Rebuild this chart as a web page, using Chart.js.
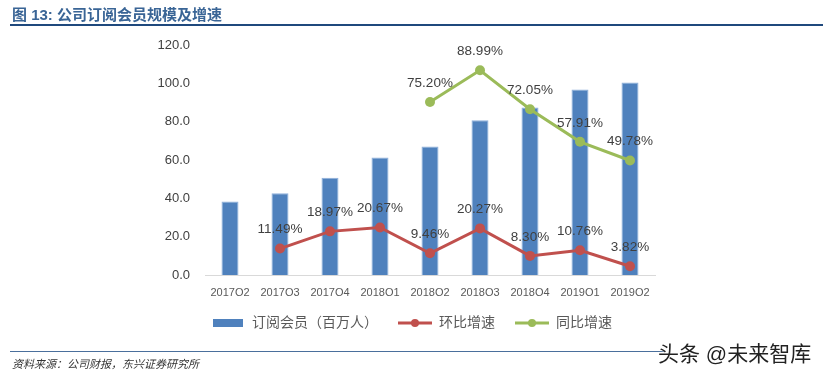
<!DOCTYPE html>
<html>
<head>
<meta charset="utf-8">
<script src="https://cdn.jsdelivr.net/npm/chart.js@4.4.1/dist/chart.umd.min.js"></script>
<style>
  html, body { margin: 0; padding: 0; background: #fff; }
  #wrap { position: relative; width: 823px; height: 377px; overflow: hidden; font-family: "Liberation Sans", "Noto Sans CJK SC", sans-serif; }
  #title { position: absolute; left: 12px; top: 3px; font-size: 15px; font-weight: bold; color: #3a6596; white-space: nowrap; }
  #title-line { position: absolute; left: 10px; top: 24px; width: 813px; height: 2px; background: #1f497d; }
  #foot-line { position: absolute; left: 10px; top: 351px; width: 655px; height: 1px; background: #4a6f9c; }
  #source { position: absolute; left: 12px; top: 355px; font-size: 11px; font-style: italic; color: #333; white-space: nowrap; }
  #mark { position: absolute; left: 658px; top: 337px; font-size: 21px; color: #222; white-space: nowrap; text-shadow: 0 0 2px #fff; }
  canvas { position: absolute; left: 0; top: 0; }
</style>
</head>
<body>
<div id="wrap">
  <canvas id="chart" width="823" height="377"></canvas>
  <div id="title">图 13: 公司订阅会员规模及增速</div>
  <div id="title-line"></div>
  <div id="foot-line"></div>
  <div id="source">资料来源：公司财报，东兴证券研究所</div>
  <div id="mark">头条 @未来智库</div>
</div>
<script>
const quarters = ['2017Q2', '2017Q3', '2017Q4', '2018Q1', '2018Q2', '2018Q3', '2018Q4', '2019Q1', '2019Q2'];
const members = [38.3, 42.7, 50.8, 61.3, 67.1, 80.7, 87.4, 96.8, 100.5];
const qoq = [null, 11.49, 18.97, 20.67, 9.46, 20.27, 8.30, 10.76, 3.82];
const yoy = [null, null, null, null, 75.20, 88.99, 72.05, 57.91, 49.78];
const yTicks = [0, 20, 40, 60, 80, 100, 120];

const BLUE = '#4f81bd';
const RED = '#c0504d';
const GREEN = '#9bbb59';
const FONT = '"Liberation Sans", "Noto Sans CJK SC", sans-serif';

function legendIcon(kind, color) {
  const c = document.createElement('canvas');
  c.width = 34;
  c.height = 12;
  const g = c.getContext('2d');
  if (kind === 'bar') {
    g.fillStyle = color;
    g.fillRect(2, 2, 30, 8);
  } else {
    g.strokeStyle = color;
    g.lineWidth = 3;
    g.beginPath();
    g.moveTo(0, 6);
    g.lineTo(34, 6);
    g.stroke();
    g.fillStyle = color;
    g.beginPath();
    g.arc(17, 6, 4, 0, Math.PI * 2);
    g.fill();
  }
  return c;
}

const icons = [legendIcon('bar', BLUE), legendIcon('line', RED), legendIcon('line', GREEN)];

// percent labels above the two line series
const pointLabels = {
  id: 'pointLabels',
  afterDatasetsDraw(chart) {
    const ctx = chart.ctx;
    ctx.save();
    ctx.font = '13.5px ' + FONT;
    ctx.fillStyle = '#404040';
    ctx.textAlign = 'center';
    ctx.textBaseline = 'middle';
    [1, 2].forEach((di) => {
      const meta = chart.getDatasetMeta(di);
      const values = chart.data.datasets[di].data;
      meta.data.forEach((pt, i) => {
        if (values[i] == null) return;
        ctx.fillText(values[i].toFixed(2) + '%', pt.x, pt.y - 19);
      });
    });
    ctx.restore();
  }
};

const defaultLabels = Chart.defaults.plugins.legend.labels.generateLabels;

new Chart(document.getElementById('chart'), {
  type: 'bar',
  data: {
    labels: quarters,
    datasets: [
      {
        label: '订阅会员（百万人）',
        data: members,
        backgroundColor: BLUE,
        borderColor: '#8eb0dc',
        borderWidth: 1,
        barPercentage: 0.34,
        categoryPercentage: 1,
        yAxisID: 'y',
        order: 2
      },
      {
        type: 'line',
        label: '环比增速',
        data: qoq,
        borderColor: RED,
        backgroundColor: RED,
        borderWidth: 3,
        pointRadius: 5,
        pointBorderWidth: 0,
        yAxisID: 'y1',
        order: 1
      },
      {
        type: 'line',
        label: '同比增速',
        data: yoy,
        borderColor: GREEN,
        backgroundColor: GREEN,
        borderWidth: 3,
        pointRadius: 5,
        pointBorderWidth: 0,
        yAxisID: 'y1',
        order: 0
      }
    ]
  },
  options: {
    responsive: false,
    animation: false,
    layout: { padding: { top: 45, right: 0, bottom: 37, left: 0 } },
    plugins: {
      tooltip: { enabled: false },
      legend: {
        position: 'bottom',
        labels: {
          usePointStyle: true,
          pointStyleWidth: 34,
          padding: 20,
          color: '#595959',
          font: { family: FONT, size: 14 },
          sort: (a, b) => a.datasetIndex - b.datasetIndex,
          generateLabels: (chart) => defaultLabels(chart).map((l) => ({ ...l, pointStyle: icons[l.datasetIndex] }))
        }
      }
    },
    scales: {
      x: {
        grid: { display: false, drawTicks: false },
        border: { display: true, color: '#d9d9d9', width: 1 },
        ticks: { color: '#595959', font: { family: FONT, size: 11 }, padding: 11, maxRotation: 0, autoSkip: false },
        afterFit: (scale) => { scale.height = 21; }
      },
      y: {
        min: 0,
        max: 120,
        grid: { display: false, drawTicks: false },
        border: { display: false },
        afterBuildTicks: (scale) => { scale.ticks = yTicks.map((v) => ({ value: v })); },
        ticks: { color: '#404040', font: { family: FONT, size: 13 }, padding: 15, callback: (v) => Number(v).toFixed(1) },
        afterFit: (scale) => { scale.width = 205; }
      },
      y1: {
        position: 'right',
        min: 0,
        max: 100,
        grid: { display: false, drawTicks: false },
        border: { display: false },
        ticks: { display: false },
        afterFit: (scale) => { scale.width = 168; }
      }
    }
  },
  plugins: [pointLabels]
});
</script>
</body>
</html>
